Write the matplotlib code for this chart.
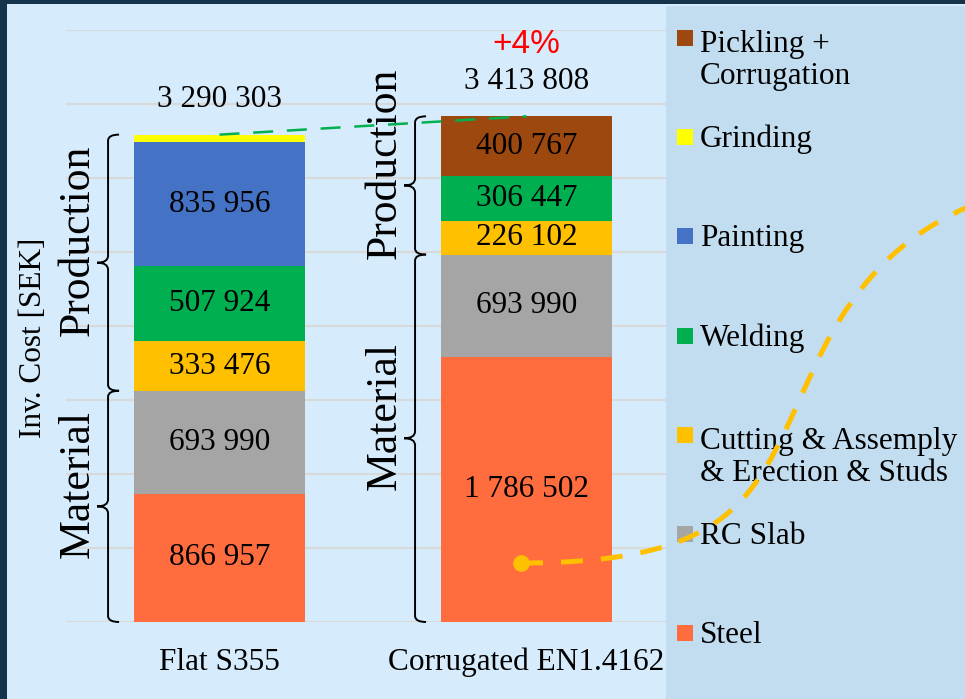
import matplotlib.pyplot as plt
from matplotlib.patches import Rectangle, PathPatch
from matplotlib.path import Path
from matplotlib.lines import Line2D

plt.rcParams['font.family'] = ['Liberation Serif', 'DejaVu Serif']

# data
categories = ['Flat S355', 'Corrugated EN1.4162']
components = ['Steel', 'RC Slab', 'Cutting & Assemply\n& Erection & Studs',
              'Welding', 'Painting', 'Grinding', 'Pickling +\nCorrugation']
steel = [866957, 1786502]
rc_slab = [693990, 693990]
cutting = [333476, 226102]
welding = [507924, 306447]
painting = [835956, 0]
grinding = [52000, 0]
pickling = [0, 400767]
series = [steel, rc_slab, cutting, welding, painting, grinding, pickling]
colors = ['#FF6C3E', '#A5A5A5', '#FFC000', '#00B050', '#4472C4', '#FFFF00', '#9C480E']

W, H = 965, 699
FS = 22.5


def fx(px):
    return px / W


def fy(py):
    return 1 - py / H


def fmt(v):
    return f'{v:,}'.replace(',', ' ')


fig = plt.figure(figsize=(W / 100, H / 100), dpi=100, facecolor='#15334A')
fig.add_artist(Rectangle((fx(7), 0), 1 - fx(7), fy(4), transform=fig.transFigure,
                         facecolor='#D6ECFC', edgecolor='none', zorder=-2))

ax = fig.add_axes([fx(66), fy(622), fx(680) - fx(66), fy(29.5) - fy(622)])
ax.set_facecolor('none')
ax.set_xlim(-0.5, 1.5)
ax.set_ylim(0, 4000000)
ax.set_yticks(range(0, 4000001, 500000))
ax.set_xticks([])
ax.tick_params(length=0, labelleft=False)
ax.yaxis.grid(True, color='#D9D9D9', lw=1.5)
ax.set_axisbelow(True)
for s in ax.spines.values():
    s.set_visible(False)

# stacked bars
bottoms = [0, 0]
for vals, c in zip(series, colors):
    ax.bar(range(2), vals, 0.557, bottom=bottoms, color=c, linewidth=0, zorder=2)
    for i, v in enumerate(vals):
        if v > 100000:
            ax.text(i, bottoms[i] + v / 2, fmt(v), ha='center', va='center',
                    fontsize=FS, zorder=3)
    bottoms = [b + v for b, v in zip(bottoms, vals)]
totals = bottoms

for i, t in enumerate(totals):
    ax.annotate(fmt(t), (i, t), xytext=(0, 25), textcoords='offset points',
                ha='center', va='center', fontsize=FS)
    ax.annotate(categories[i], (i, 0), xytext=(0, -34.5), textcoords='offset points',
                ha='center', va='baseline', fontsize=FS, annotation_clip=False)

pct = (totals[1] / totals[0] - 1) * 100
ax.annotate(f'+{pct:.0f}%', (1, totals[1]), xytext=(0, 52), textcoords='offset points',
            ha='center', va='center', fontsize=24, color='#FF0000',
            family=['Liberation Sans', 'DejaVu Sans'])

ax.plot([0, 1], totals, color='#00B050', lw=1.8, ls=(0, (8, 5.5)), zorder=4)

ax.text(-0.0537, 0.479, 'Inv. Cost [SEK]', transform=ax.transAxes, rotation=90,
        ha='center', va='center', fontsize=FS)


# curly braces
def brace(x, y0, y1, label):
    X, Y0 = ax.transData.transform((x, y0))
    _, Y1 = ax.transData.transform((x, y1))
    Ym = (Y0 + Y1) / 2
    w, h, wm, hm = 11, 6, 11, 7
    verts = [(X + w, Y1), (X, Y1), (X, Y1 - h), (X, Ym + hm), (X, Ym), (X - wm, Ym),
             (X, Ym), (X, Ym - hm), (X, Y0 + h), (X, Y0), (X + w, Y0)]
    codes = [Path.MOVETO, Path.CURVE3, Path.CURVE3, Path.LINETO, Path.CURVE3, Path.CURVE3,
             Path.CURVE3, Path.CURVE3, Path.LINETO, Path.CURVE3, Path.CURVE3]
    verts = ax.transData.inverted().transform(verts)
    ax.add_patch(PathPatch(Path(verts, codes), fill=False, lw=1.4, color='black',
                           clip_on=False, zorder=3))
    ax.annotate(label, (x, (y0 + y1) / 2), xytext=(-21.6, 16), textcoords='offset points',
                rotation=90, ha='center', va='center', fontsize=31.5)


for i in range(2):
    mat = steel[i] + rc_slab[i]
    brace(i - 0.363, 0, mat, 'Material')
    brace(i - 0.363, mat, totals[i], 'Production')

# legend panel
fig.add_artist(Rectangle((fx(666), 0), 1 - fx(666), fy(6), transform=fig.transFigure,
                         facecolor='#C2DDF0', edgecolor='none', zorder=1))
for k, (lab, c) in enumerate(zip(components[::-1], colors[::-1])):
    cy = 38 + k * 99.2
    fig.add_artist(Rectangle((fx(677), fy(cy + 8)), fx(16), 16 / H, transform=fig.transFigure,
                             facecolor=c, edgecolor='none', zorder=3))
    last_line = cy + 10 + 36 * lab.count('\n')
    fig.text(fx(700), fy(last_line), lab, va='baseline', ha='left', fontsize=FS,
             linespacing=1.15, zorder=3)

# yellow pointer curve
pts = [(521, 563), (745, 563), (757, 490), (814, 368),
       (860, 268), (915.5, 230), (970, 206)]
curve = Path([(fx(x), fy(y)) for x, y in pts],
             [Path.MOVETO] + [Path.CURVE4] * 6)
fig.add_artist(PathPatch(curve, fill=False, edgecolor='#FFC000', lw=3.6,
                         ls=(0, (4.4, 3.6)), capstyle='butt',
                         transform=fig.transFigure, zorder=5))
fig.add_artist(Line2D([fx(521)], [fy(563)], marker='o', ms=11, color='#FFC000',
                      transform=fig.transFigure, zorder=5))

fig.savefig('out.png', dpi=100, facecolor=fig.get_facecolor())
